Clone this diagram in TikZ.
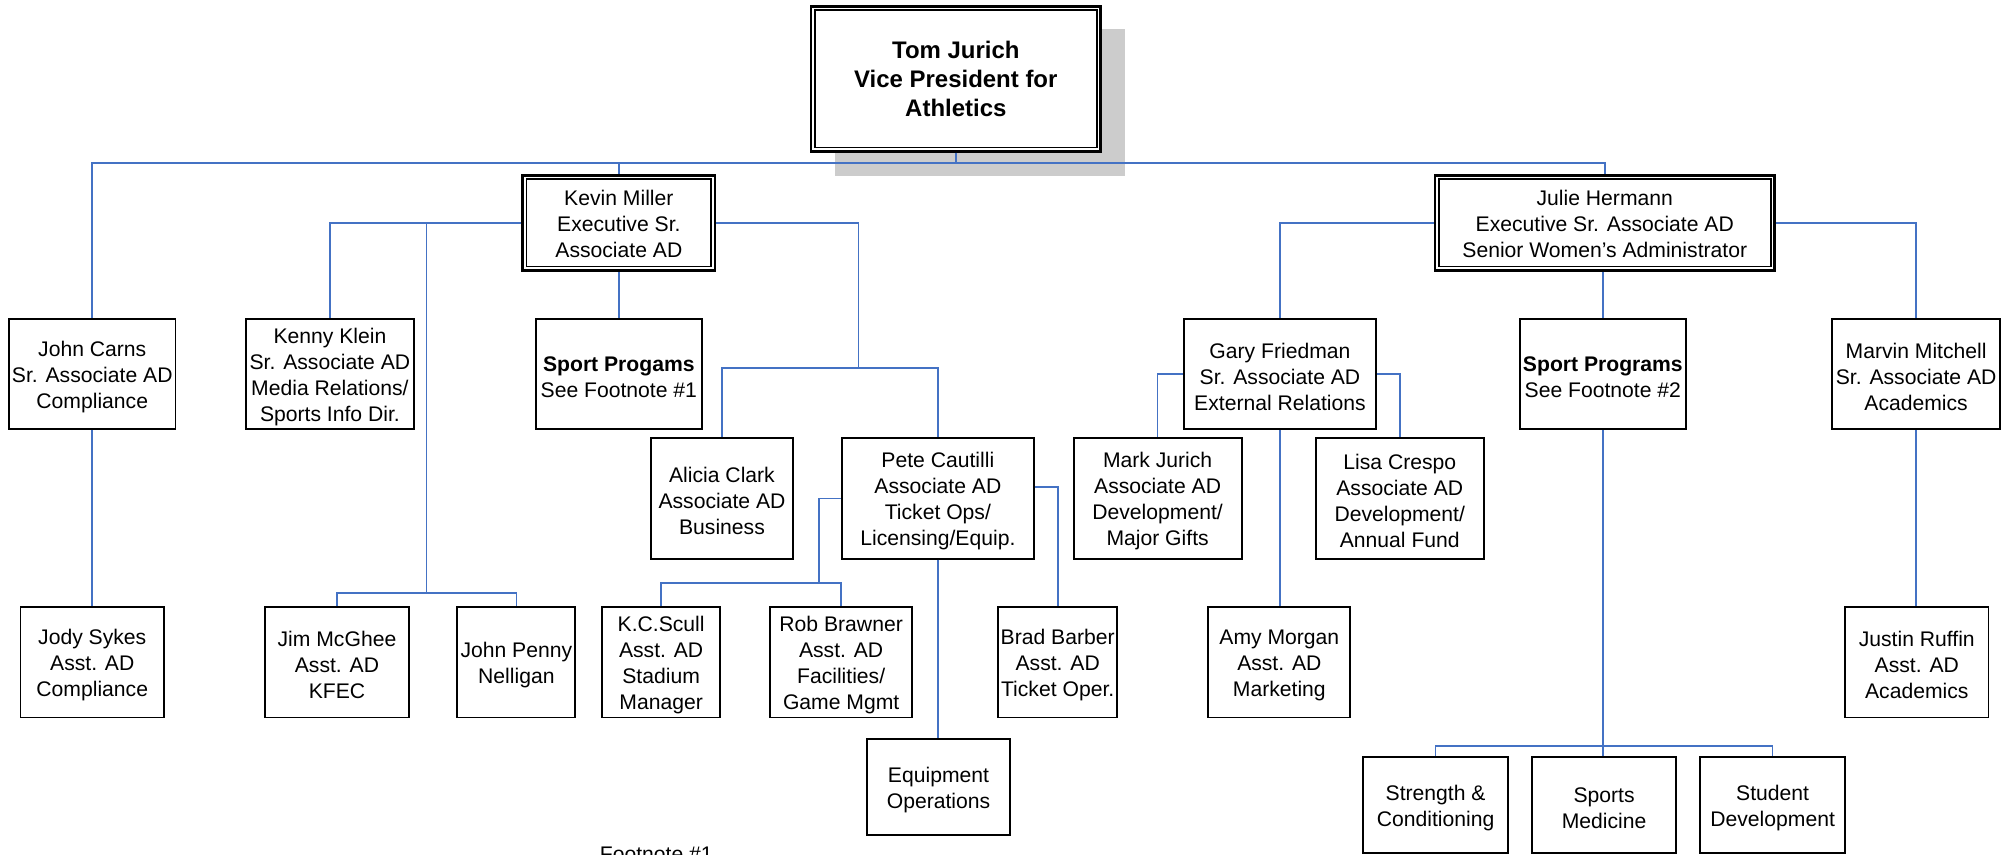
\documentclass[tikz,border=0pt]{standalone}
\usepackage{fontspec}
\setmainfont{Liberation Sans}
\usetikzlibrary{calc}
\definecolor{conncol}{RGB}{68,114,196}
\definecolor{shadowcol}{RGB}{204,204,204}
\newcommand\fsnorm{\fontsize{16.5}{20.3}\selectfont}
\newcommand\fstop{\fontsize{18.7}{22.5}\selectfont\bfseries}
\newcommand\st{\rule{0pt}{16.5pt}}
\newcommand\sst{\rule{0pt}{14pt}}
\begin{document}
\begin{tikzpicture}[x=1pt,y=-1pt,
  box/.style={draw=black, line width=1.5pt, fill=white, align=center, inner sep=0pt, font=\fsnorm},
  dbl/.style={box, line width=2.2pt},
  conn/.style={draw=conncol, line width=1.3pt},
  innerfr/.style={draw=black, line width=1.2pt}]
\useasboundingbox (0,0) rectangle (1568,667);
\clip (0,0) rectangle (1568,667);
% shadow of top box
\fill[shadowcol] (652,23) rectangle (878,137);
% top level
\node[dbl, minimum width=226, minimum height=113, font=\fstop] (tom) at (746,61.5) {Tom Jurich\\Vice President for\\Athletics};
\draw[innerfr] ([shift={(4,4)}]tom.north west) rectangle ([shift={(-4,-4)}]tom.south east);
\node[dbl, minimum width=150, minimum height=74] (km) at (483,174) {\sst Kevin Miller\\Executive Sr.\\Associate AD};
\draw[innerfr] ([shift={(4,4)}]km.north west) rectangle ([shift={(-4,-4)}]km.south east);
\node[dbl, minimum width=265, minimum height=74] (julie) at (1252.5,174) {\sst Julie Hermann\\Executive Sr. Associate AD\\Senior Women’s Administrator};
\draw[innerfr] ([shift={(4,4)}]julie.north west) rectangle ([shift={(-4,-4)}]julie.south east);
% row 2
\node[box, minimum width=130, minimum height=86] (carns) at (72,292) {\st John Carns\\Sr. Associate AD\\Compliance};
\node[box, minimum width=131, minimum height=86] (kenny) at (257.5,292) {\st Kenny Klein\\Sr. Associate AD\\Media Relations/\\Sports Info Dir.};
\node[box, minimum width=130, minimum height=86] (spa) at (483,292) {\st\textbf{Sport Progams}\\See Footnote \#1};
\node[box, minimum width=150, minimum height=86] (gary) at (999,292) {\st Gary Friedman\\Sr. Associate AD\\External Relations};
\node[box, minimum width=130, minimum height=86] (spb) at (1251,292) {\st\textbf{Sport Programs}\\See Footnote \#2};
\node[box, minimum width=131, minimum height=86] (marvin) at (1495.5,292) {\st Marvin Mitchell\\Sr. Associate AD\\Academics};
% row 3
\node[box, minimum width=111, minimum height=94] (alicia) at (563.5,389) {\st Alicia Clark\\Associate AD\\Business};
\node[box, minimum width=150, minimum height=94] (pete) at (732,389) {\st Pete Cautilli\\Associate AD\\Ticket Ops/\\Licensing/Equip.};
\node[box, minimum width=131, minimum height=94] (mark) at (903.5,389) {\st Mark Jurich\\Associate AD\\Development/\\Major Gifts};
\node[box, minimum width=131, minimum height=94] (lisa) at (1092.5,389) {\st Lisa Crespo\\Associate AD\\Development/\\Annual Fund};
% row 4
\node[box, minimum width=112, minimum height=86] (jody) at (72,517) {\st Jody Sykes\\Asst. AD\\Compliance};
\node[box, minimum width=112, minimum height=86] (jim) at (263,517) {\st Jim McGhee\\Asst. AD\\KFEC};
\node[box, minimum width=92, minimum height=86] (penny) at (403,517) {\st John Penny\\Nelligan};
\node[box, minimum width=92, minimum height=86] (kc) at (516,517) {\st K.C.Scull\\Asst. AD\\Stadium\\Manager};
\node[box, minimum width=111, minimum height=86] (rob) at (656.5,517) {\st Rob Brawner\\Asst. AD\\Facilities/\\Game Mgmt};
\node[box, minimum width=93, minimum height=86] (brad) at (825.5,517) {\st Brad Barber\\Asst. AD\\Ticket Oper.};
\node[box, minimum width=111, minimum height=86] (amy) at (998.5,517) {\st Amy Morgan\\Asst. AD\\Marketing};
\node[box, minimum width=112, minimum height=86] (justin) at (1496,517) {\st Justin Ruffin\\Asst. AD\\Academics};
% row 5
\node[box, minimum width=111, minimum height=75] (equip) at (732.5,614.5) {\st Equipment\\Operations};
\node[box, minimum width=113, minimum height=75] (strength) at (1120.5,628.5) {\st Strength \&\\Conditioning};
\node[box, minimum width=112, minimum height=75] (smed) at (1252,628.5) {\st Sports\\Medicine};
\node[box, minimum width=113, minimum height=75] (sdev) at (1383.5,628.5) {\st Student\\Development};
% footnote
\node[anchor=north west, inner sep=0pt, font=\fsnorm] (foot) at (468,661) {Footnote \#1};
% connector helper coordinates
\coordinate (bar) at (0,127);
\coordinate (jp) at (333,463);
\coordinate (ap) at (670,287);
\coordinate (kr) at (639,455);
\coordinate (sb) at (1251,582);
% connectors
\draw[conn] (tom.south) -- (tom.south |- bar);
\draw[conn] (carns.north) |- (bar -| julie.north) -- (julie.north);
\draw[conn] (km.north |- bar) -- (km.north);
\draw[conn] (carns.south) -- (jody.north);
\draw[conn] (km.west) -| (kenny.north);
\draw[conn] (km.west -| jp) -- (jp);
\draw[conn] (jim.north) |- (jp) -| (penny.north);
\draw[conn] (km.south) -- (spa.north);
\draw[conn] (km.east) -| (ap);
\draw[conn] (alicia.north) |- (ap) -| (pete.north);
\draw[conn] (pete.west) -| (kr);
\draw[conn] (kc.north) |- (kr) -| (rob.north);
\draw[conn] ([yshift=9pt]pete.east) -| (brad.north);
\draw[conn] (pete.south) -- (pete.south |- equip.north);
\draw[conn] (julie.west) -| (gary.north);
\draw[conn] (julie.east) -| (marvin.north);
\draw[conn] (spb.north |- julie.south) -- (spb.north);
\draw[conn] (gary.west) -| (mark.north);
\draw[conn] (gary.east) -| (lisa.north);
\draw[conn] (gary.south) -- (gary.south |- amy.north);
\draw[conn] (marvin.south) -- (marvin.south |- justin.north);
\draw[conn] (spb.south) -- (spb.south |- smed.north);
\draw[conn] (strength.north) |- (sb) -| (sdev.north);
\end{tikzpicture}
\end{document}
